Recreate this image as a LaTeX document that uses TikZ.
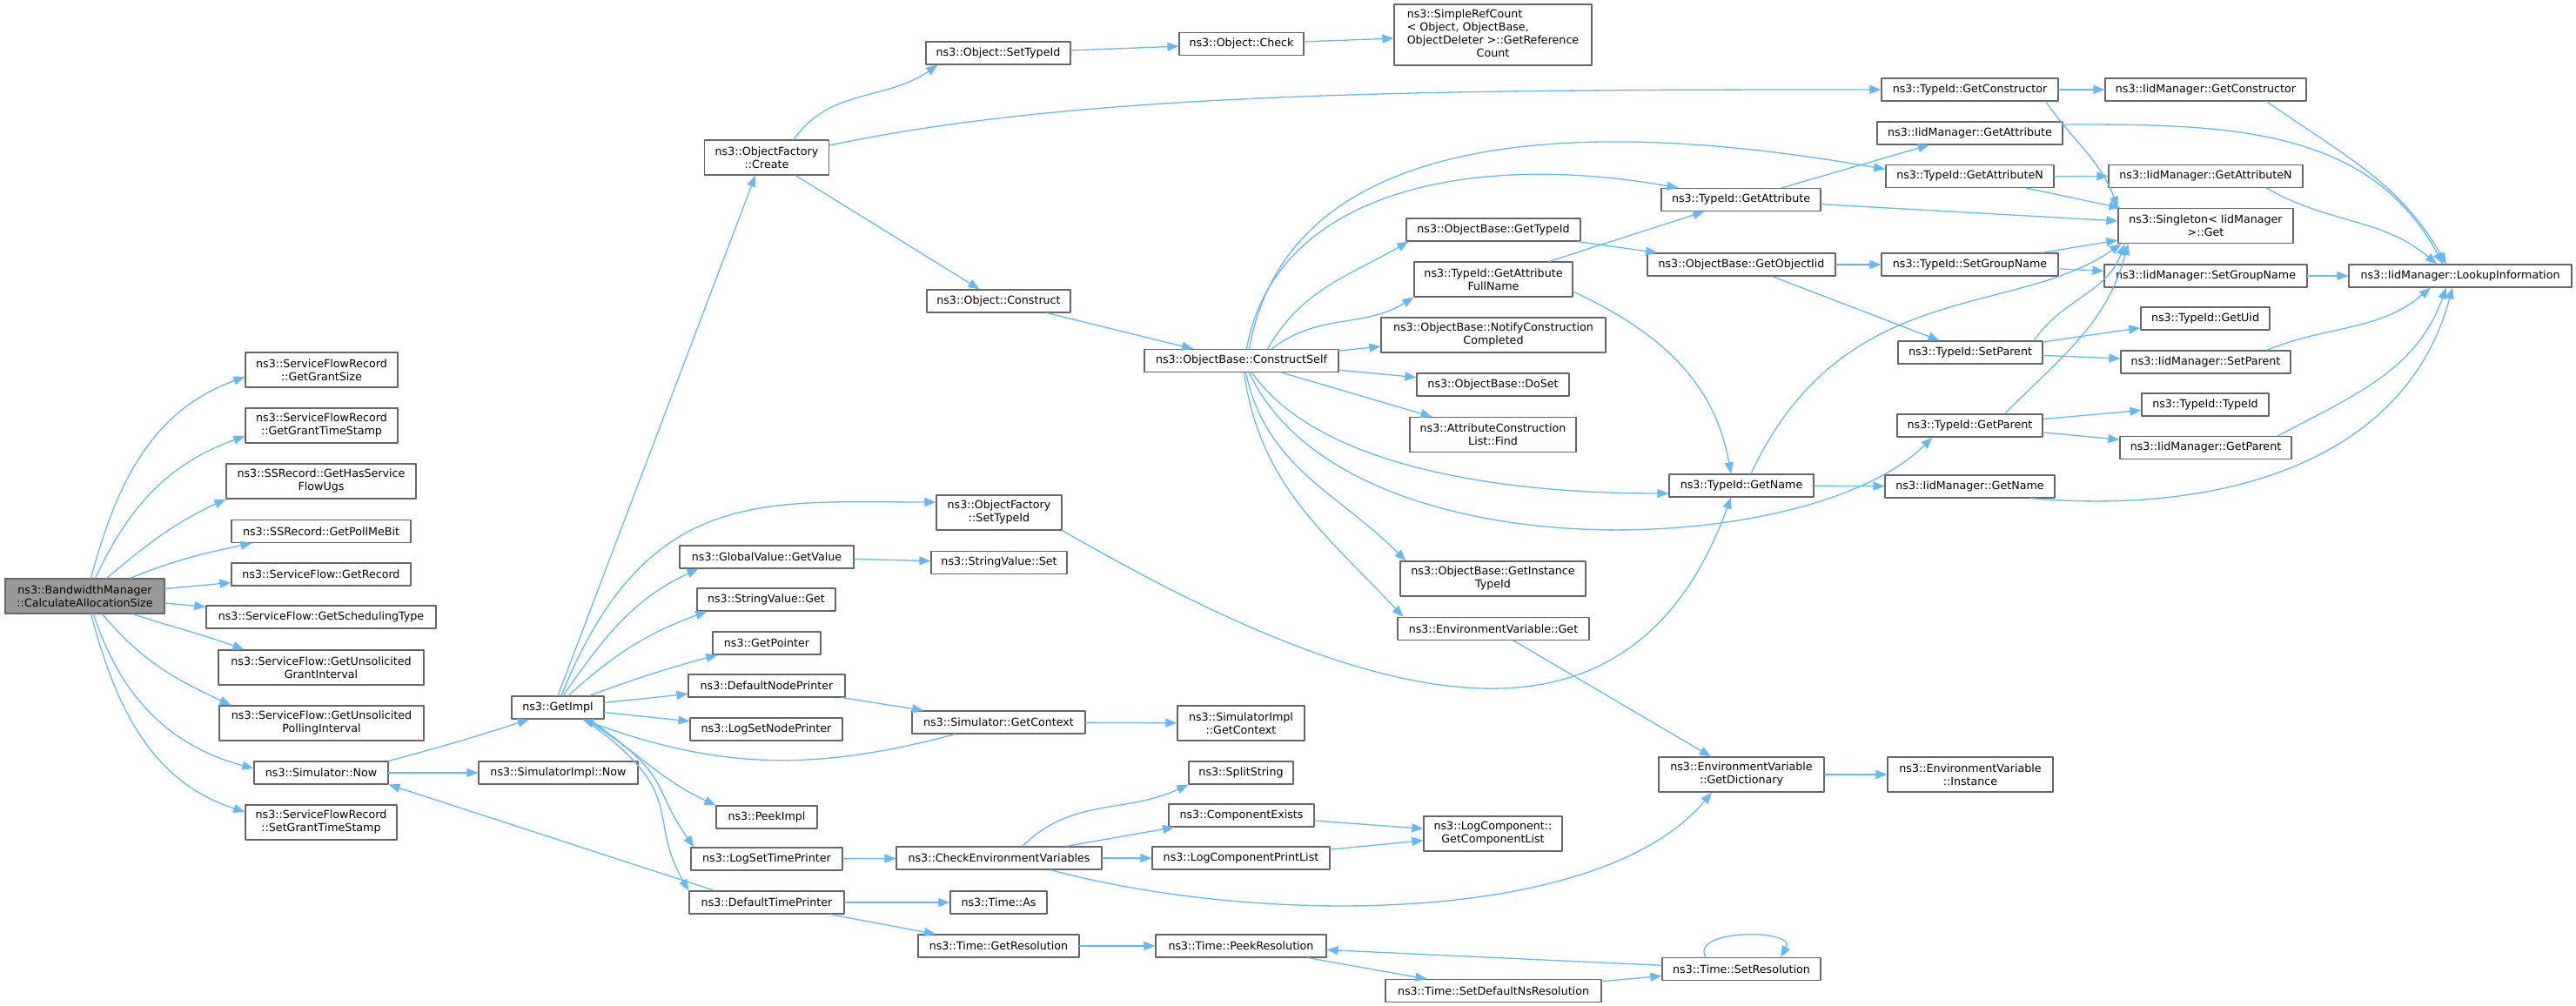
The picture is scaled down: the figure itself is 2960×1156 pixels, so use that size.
\documentclass[tikz,border=0pt]{standalone}
\usepackage{fontspec}
\setmainfont{DejaVu Sans}
\usetikzlibrary{arrows.meta}
\definecolor{edgeblue}{HTML}{63B8FF}
\definecolor{boxline}{HTML}{666666}
\definecolor{rootfill}{HTML}{999999}
\begin{document}
\begin{tikzpicture}[x=1pt,y=1pt,>={Triangle[length=13pt,width=10pt]}, font=\fontsize{12.66}{15}\selectfont, line join=round, line cap=round,
	fn/.style={draw=boxline, line width=1.2pt, fill=white, inner sep=0pt, align=center, minimum height=26pt},
	fn2/.style={fn, minimum height=40pt},
	ln/.style={->, draw=edgeblue, line width=1.3pt}]
		\useasboundingbox (0,0) rectangle (2960,1156);
		% callers side
		\node (cas) at (97.5,471) [fn2, fill=rootfill, minimum width=183pt] {ns3::BandwidthManager\\::CalculateAllocationSize};
		\node (ggs) at (369.5,731) [fn2, minimum width=175pt] {ns3::ServiceFlowRecord\\::GetGrantSize};
		\node (ggts) at (369.5,667) [fn2, minimum width=175pt] {ns3::ServiceFlowRecord\\::GetGrantTimeStamp};
		\node (ghs) at (369,603) [fn2, minimum width=218pt] {ns3::SSRecord::GetHasService\\FlowUgs};
		\node (gpmb) at (369,545.5) [fn, minimum width=206pt] {ns3::SSRecord::GetPollMeBit};
		\node (grec) at (369,496) [fn, minimum width=206pt] {ns3::ServiceFlow::GetRecord};
		\node (gst) at (369,447) [fn, minimum width=264pt] {ns3::ServiceFlow::GetSchedulingType};
		\node (gugi) at (369,389) [fn2, minimum width=236pt] {ns3::ServiceFlow::GetUnsolicited\\GrantInterval};
		\node (gupi) at (369.5,325) [fn2, minimum width=235pt] {ns3::ServiceFlow::GetUnsolicited\\PollingInterval};
		\node (snow) at (369,268) [fn, minimum width=154pt] {ns3::Simulator::Now};
		\node (sgts) at (369,211) [fn2, minimum width=174pt] {ns3::ServiceFlowRecord\\::SetGrantTimeStamp};
		\node (getimpl) at (641,343) [fn, minimum width=106pt] {ns3::GetImpl};
		\node (sinow) at (641.5,268) [fn, minimum width=183pt] {ns3::SimulatorImpl::Now};
		\node (ofcreate) at (881,975) [fn2, minimum width=143pt] {ns3::ObjectFactory\\::Create};
		\node (gvget) at (881,516) [fn, minimum width=200pt] {ns3::GlobalValue::GetValue};
		\node (svget) at (880.5,467) [fn, minimum width=159pt] {ns3::StringValue::Get};
		\node (getptr) at (881,417) [fn, minimum width=124pt] {ns3::GetPointer};
		\node (dnp) at (881,368) [fn, minimum width=180pt] {ns3::DefaultNodePrinter};
		\node (lsnp) at (880.5,318) [fn, minimum width=175pt] {ns3::LogSetNodePrinter};
		\node (peekimpl) at (881,217) [fn, minimum width=116pt] {ns3::PeekImpl};
		\node (lstp) at (881,169) [fn, minimum width=174pt] {ns3::LogSetTimePrinter};
		\node (dtp) at (881,119) [fn, minimum width=178pt] {ns3::DefaultTimePrinter};
		\node (osettid) at (1147,1095) [fn, minimum width=166pt] {ns3::Object::SetTypeId};
		\node (oconstruct) at (1147.5,810) [fn, minimum width=165pt] {ns3::Object::Construct};
		\node (ofsettid) at (1148,567) [fn2, minimum width=144pt] {ns3::ObjectFactory\\::SetTypeId};
		\node (svset) at (1148,509.5) [fn, minimum width=156pt] {ns3::StringValue::Set};
		\node (sgetctx) at (1147.5,326) [fn, minimum width=199pt] {ns3::Simulator::GetContext};
		\node (cev) at (1148,170) [fn, minimum width=236pt] {ns3::CheckEnvironmentVariables};
		\node (tas) at (1147.5,119) [fn, minimum width=111pt] {ns3::Time::As};
		\node (tgetres) at (1147.5,69) [fn, minimum width=185pt] {ns3::Time::GetResolution};
		\node (ocheck) at (1426.5,1105.5) [fn, minimum width=143pt] {ns3::Object::Check};
		\node (cself) at (1426.5,741.5) [fn, minimum width=223pt] {ns3::ObjectBase::ConstructSelf};
		\node (sigctx) at (1426,325) [fn2, minimum width=146pt] {ns3::SimulatorImpl\\::GetContext};
		\node (splitstr) at (1426,268) [fn, minimum width=120pt] {ns3::SplitString};
		\node (compex) at (1426.5,219) [fn, minimum width=167pt] {ns3::ComponentExists};
		\node (lcpl) at (1426,170) [fn, minimum width=204pt] {ns3::LogComponentPrintList};
		\node (tpeekres) at (1426,69) [fn, minimum width=196pt] {ns3::Time::PeekResolution};
		\node (srcount) at (1715.5,1116) [fn, minimum width=227pt, minimum height=70pt] {\begin{tabular}{@{}l@{}}ns3::SimpleRefCount\\< Object, ObjectBase,\\ObjectDeleter >::GetReference\\\multicolumn{1}{@{}c@{}}{Count}\end{tabular}};
		\node (gtid) at (1716,892) [fn, minimum width=200pt] {ns3::ObjectBase::GetTypeId};
		\node (gafn) at (1716,835) [fn2, minimum width=182pt] {ns3::TypeId::GetAttribute\\FullName};
		\node (ncc) at (1716,771) [fn2, minimum width=258pt] {ns3::ObjectBase::NotifyConstruction\\Completed};
		\node (doset) at (1715.5,714) [fn, minimum width=175pt] {ns3::ObjectBase::DoSet};
		\node (acfind) at (1715.5,656.5) [fn2, minimum width=191pt] {ns3::AttributeConstruction\\List::Find};
		\node (gitid) at (1715.5,491) [fn2, minimum width=213pt] {ns3::ObjectBase::GetInstance\\TypeId};
		\node (evget) at (1716,433.5) [fn, minimum width=220pt] {ns3::EnvironmentVariable::Get};
		\node (lcgcl) at (1715.5,198) [fn2, minimum width=159pt] {ns3::LogComponent::\\GetComponentList};
		\node (tsdnr) at (1716,17.5) [fn, minimum width=248pt] {ns3::Time::SetDefaultNsResolution};
		\node (tgattr) at (2000.5,926.5) [fn, minimum width=183pt] {ns3::TypeId::GetAttribute};
		\node (gobjiid) at (2001,852) [fn, minimum width=216pt] {ns3::ObjectBase::GetObjectIid};
		\node (tgname) at (2001,598) [fn, minimum width=166pt] {ns3::TypeId::GetName};
		\node (evgetdict) at (2001,266) [fn2, minimum width=190pt] {ns3::EnvironmentVariable\\::GetDictionary};
		\node (tsetres) at (2001,42.5) [fn, minimum width=182pt] {ns3::Time::SetResolution};
		\node (tgctor) at (2263.5,1053) [fn, minimum width=203pt] {ns3::TypeId::GetConstructor};
		\node (imgattr) at (2263.5,1003) [fn, minimum width=213pt] {ns3::IidManager::GetAttribute};
		\node (tgattrn) at (2263.5,953.5) [fn, minimum width=193pt] {ns3::TypeId::GetAttributeN};
		\node (tsgname) at (2263.5,852) [fn, minimum width=203pt] {ns3::TypeId::SetGroupName};
		\node (tsparent) at (2264,751) [fn, minimum width=166pt] {ns3::TypeId::SetParent};
		\node (tgparent) at (2263.5,667) [fn, minimum width=167pt] {ns3::TypeId::GetParent};
		\node (imgname) at (2263.5,597) [fn, minimum width=195pt] {ns3::IidManager::GetName};
		\node (evinst) at (2264,266) [fn2, minimum width=190pt] {ns3::EnvironmentVariable\\::Instance};
		\node (imgctor) at (2534.5,1053) [fn, minimum width=231pt] {ns3::IidManager::GetConstructor};
		\node (imgattrn) at (2534.5,953.5) [fn, minimum width=223pt] {ns3::IidManager::GetAttributeN};
		\node (singleton) at (2534.5,896.5) [fn2, minimum width=201pt] {ns3::Singleton< IidManager\\ >::Get};
		\node (imsgname) at (2534.5,839) [fn, minimum width=233pt] {ns3::IidManager::SetGroupName};
		\node (tgetuid) at (2534,790) [fn, minimum width=148pt] {ns3::TypeId::GetUid};
		\node (imsparent) at (2534.5,740) [fn, minimum width=195pt] {ns3::IidManager::SetParent};
		\node (ttypeid) at (2534,691) [fn, minimum width=146pt] {ns3::TypeId::TypeId};
		\node (imgparent) at (2534.5,641.5) [fn, minimum width=197pt] {ns3::IidManager::GetParent};
		\node (imlookup) at (2827,839) [fn, minimum width=256pt] {ns3::IidManager::LookupInformation};
		% calls
		\draw[ln] ([xshift=7pt]cas.north) to[out=75,in=200] ([yshift=-8pt]ggs.west);
		\draw[ln] ([xshift=12pt]cas.north) to[out=65,in=200] ([yshift=-12pt]ggts.west);
		\draw[ln] ([xshift=25pt]cas.north) to[out=40,in=205] (ghs.south west);
		\draw[ln] ([xshift=52pt]cas.north) to[out=22,in=192] ([xshift=24pt]gpmb.south west);
		\draw[ln] (cas) -- (grec);
		\draw[ln] (cas) -- (gst);
		\draw[ln] ([xshift=55pt]cas.south) to[out=-18,in=160] ([xshift=30pt]gugi.north west);
		\draw[ln] ([xshift=20pt]cas.south) to[out=-50,in=155] ([xshift=14pt]gupi.north west);
		\draw[ln] ([xshift=10pt]cas.south) to[out=-72,in=165] ([yshift=5pt]snow.west);
		\draw[ln] ([xshift=7pt]cas.south) to[out=-75,in=162] ([yshift=12pt]sgts.west);
		\draw[ln] (snow.north east) to[out=15,in=198] ([xshift=-33pt]getimpl.south);
		\draw[ln] (snow) -- (sinow);
		\draw[ln] ([xshift=-60pt]dtp.north) to[out=162,in=-18] (snow.south east);
		\draw[ln] (getimpl.north) -- ([xshift=-13pt]ofcreate.south);
		\draw[ln] ([xshift=4pt]getimpl.north) .. controls +(68:260) and +(180:200) .. ([yshift=12pt]ofsettid.west);
		\draw[ln] ([xshift=6pt]getimpl.north) to[out=55,in=205] ([xshift=22pt]gvget.south west);
		\draw[ln] ([xshift=12pt]getimpl.north) to[out=42,in=200] ([xshift=12pt]svget.south west);
		\draw[ln] ([xshift=36pt]getimpl.north) to[out=20,in=195] ([xshift=6pt]getptr.south west);
		\draw[ln] (getimpl) -- (dnp);
		\draw[ln] (getimpl) -- (lsnp);
		\draw[ln] ([xshift=32pt]getimpl.south) to[out=-32,in=155] (peekimpl.north west);
		\draw[ln] ([xshift=36pt]getimpl.south) .. controls +(-35:120) and +(125:90) .. ([xshift=4pt]lstp.north west);
		\draw[ln] ([xshift=30pt]getimpl.south) .. controls +(-35:150) and +(120:100) .. (dtp.north west);
		\draw[ln] ([xshift=-50pt]sgetctx.south) to[out=195,in=-20] ([xshift=28pt]getimpl.south);
		\draw[ln] (dnp) -- (sgetctx);
		\draw[ln] (sgetctx) -- (sigctx);
		\draw[ln] (gvget) -- (svset);
		\draw[ln] (lstp) -- (cev);
		\draw[ln] (dtp) -- (tas);
		\draw[ln] (dtp) -- (tgetres);
		\draw[ln] ([xshift=31pt]ofcreate.north) to[out=55,in=215] ([xshift=14pt]osettid.south west);
		\draw[ln] ([yshift=14pt]ofcreate.east) .. controls +(12:300) and +(180:500) .. (tgctor.west);
		\draw[ln] (ofcreate) -- (oconstruct);
		\draw[ln] (osettid) -- (ocheck);
		\draw[ln] (ocheck) -- (srcount);
		\draw[ln] (oconstruct) -- (cself);
		\draw[ln] ([xshift=6pt]cself.north) .. controls +(80:180) and +(170:250) .. ([xshift=20pt]tgattr.north west);
		\draw[ln] ([xshift=9pt]cself.north) .. controls +(80:280) and +(170:300) .. ([yshift=8pt]tgattrn.west);
		\draw[ln] ([xshift=30pt]cself.north) to[out=60,in=210] ([xshift=3pt]gtid.south west);
		\draw[ln] ([xshift=35pt]cself.north) to[out=38,in=212] (gafn.south west);
		\draw[ln] (cself) -- (ncc);
		\draw[ln] (cself) -- (doset);
		\draw[ln] (cself) -- (acfind);
		\draw[ln] ([xshift=12pt]cself.south) .. controls +(-55:130) and +(180:200) .. ([yshift=-9pt]tgname.west);
		\draw[ln] ([xshift=9pt]cself.south) .. controls +(-65:260) and +(225:200) .. ([xshift=41pt]tgparent.south west);
		\draw[ln] ([xshift=5pt]cself.south) to[out=-78,in=135] ([xshift=7pt]gitid.north west);
		\draw[ln] ([xshift=3pt]cself.south) to[out=-82,in=133] ([xshift=7pt]evget.north west);
		\draw[ln] (gafn) -- (tgattr);
		\draw[ln] ([yshift=-14pt]gafn.east) to[out=-25,in=100] ([xshift=-12pt]tgname.north);
		\draw[ln] (gtid) -- (gobjiid);
		\draw[ln] (tgattr) -- (imgattr);
		\draw[ln] (tgattr) -- (singleton);
		\draw[ln] (tgattrn) -- (imgattrn);
		\draw[ln] (tgattrn) -- (singleton);
		\draw[ln] (tgctor) -- (imgctor);
		\draw[ln] ([xshift=-15pt]tgctor.south east) to[out=-55,in=110] (singleton.north west);
		\draw[ln] ([xshift=70pt]imgctor.south) to[out=-35,in=120] ([xshift=-16pt]imlookup.north);
		\draw[ln] ([yshift=10pt]imgattr.east) to[out=0,in=118] ([xshift=-20pt]imlookup.north);
		\draw[ln] ([xshift=70pt]imgattrn.south) to[out=-30,in=140] ([xshift=-27pt]imlookup.north);
		\draw[ln] (imsgname) -- (imlookup);
		\draw[ln] ([xshift=70pt]imsparent.north) to[out=22,in=220] ([xshift=-34pt]imlookup.south);
		\draw[ln] ([xshift=83pt]imgparent.north) to[out=28,in=250] ([xshift=-16pt]imlookup.south);
		\draw[ln] ([xshift=70pt]imgname.south) to[out=-5,in=255] ([xshift=-9pt]imlookup.south);
		\draw[ln] (gobjiid) -- (tsgname);
		\draw[ln] (gobjiid) -- (tsparent);
		\draw[ln] (tsgname) -- (singleton);
		\draw[ln] (tsgname) -- (imsgname);
		\draw[ln] ([xshift=73pt]tsparent.north) to[out=55,in=250] ([xshift=8pt]singleton.south west);
		\draw[ln] (tsparent) -- (tgetuid);
		\draw[ln] (tsparent) -- (imsparent);
		\draw[ln] ([xshift=40pt]tgparent.north) to[out=45,in=255] ([xshift=12pt]singleton.south west);
		\draw[ln] (tgparent) -- (ttypeid);
		\draw[ln] (tgparent) -- (imgparent);
		\draw[ln] ([xshift=11pt]tgname.north) .. controls +(65:250) and +(215:150) .. ([xshift=4pt]singleton.south west);
		\draw[ln] (tgname) -- (imgname);
		\draw[ln] (ofsettid.south east) .. controls +(-30:400) and +(250:350) .. ([xshift=-12pt]tgname.south);
		\draw[ln] (evget) -- (evgetdict);
		\draw[ln] (evgetdict) -- (evinst);
		\draw[ln] ([xshift=27pt]cev.north) to[out=45,in=205] (splitstr.south west);
		\draw[ln] (cev) -- (compex);
		\draw[ln] (cev) -- (lcpl);
		\draw[ln] ([xshift=59pt]cev.south) .. controls +(-15:250) and +(230:200) .. ([xshift=-34pt]evgetdict.south);
		\draw[ln] (compex) -- (lcgcl);
		\draw[ln] (lcpl) -- (lcgcl);
		\draw[ln] (tgetres) -- (tpeekres);
		\draw[ln] (tpeekres) -- (tsdnr);
		\draw[ln] (tsdnr) -- (tsetres);
		\draw[ln] (tsetres) -- (tpeekres);
		\draw[ln] ([xshift=-41pt]tsetres.north) .. controls +(120:38) and +(60:38) .. ([xshift=45pt]tsetres.north);
	\end{tikzpicture}
\end{document}
